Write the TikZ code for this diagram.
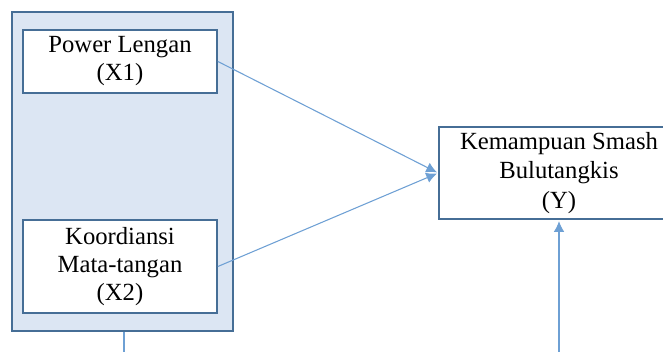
\documentclass[tikz,border=0pt]{standalone}
\usepackage{fontspec}
\setmainfont{Liberation Serif}
\usepackage{xcolor}
\usetikzlibrary{arrows.meta}
\usetikzlibrary{positioning}

\definecolor{boxline}{RGB}{70,110,150}
\definecolor{arrowline}{RGB}{110,160,212}
\definecolor{groupfill}{RGB}{220,230,243}

\begin{document}
\begin{tikzpicture}[x=0.75pt,y=-0.75pt,shorten >=1pt,
        every node/.style={font=\fontsize{18.5}{21}\selectfont},
        var/.style={draw=boxline, line width=1.3pt, fill=white, align=center, inner sep=0pt},
        link/.style={color=arrowline, line width=0.8pt, -{Latex[length=8pt,width=8pt]}}]

        \clip (0,0) rectangle (663,352);

        \node[draw=boxline, line width=1.3pt, fill=groupfill, minimum width=165.75pt, minimum height=239.25pt] (grp) at (122.5,171.5) {};

        \node[var, minimum width=145.5pt, minimum height=47.25pt] (X1) at (120,61.5) {Power Lengan\\(X1)};
        \node[var, minimum width=145.5pt, minimum height=69.75pt] (X2) at (120,266.5) {Koordiansi\\Mata-tangan\\(X2)};

        \node[var, minimum width=180pt, minimum height=69pt, font=\fontsize{18.5}{22}\selectfont] (Y) at (559,173) {Kemampuan Smash\\Bulutangkis\\(Y)};

        \coordinate (low1) at (124,360);
        \coordinate (low2) at (559,360);

        \path[link]
        (X1.east) edge [] node[] {} (Y.west)
        (X2.east) edge [] node[] {} (Y.west)
        (low2) edge [] node[] {} (Y.south);

        \draw[color=arrowline, line width=0.8pt] (grp.south -| low1) -- (low1);

      \end{tikzpicture}
\end{document}
